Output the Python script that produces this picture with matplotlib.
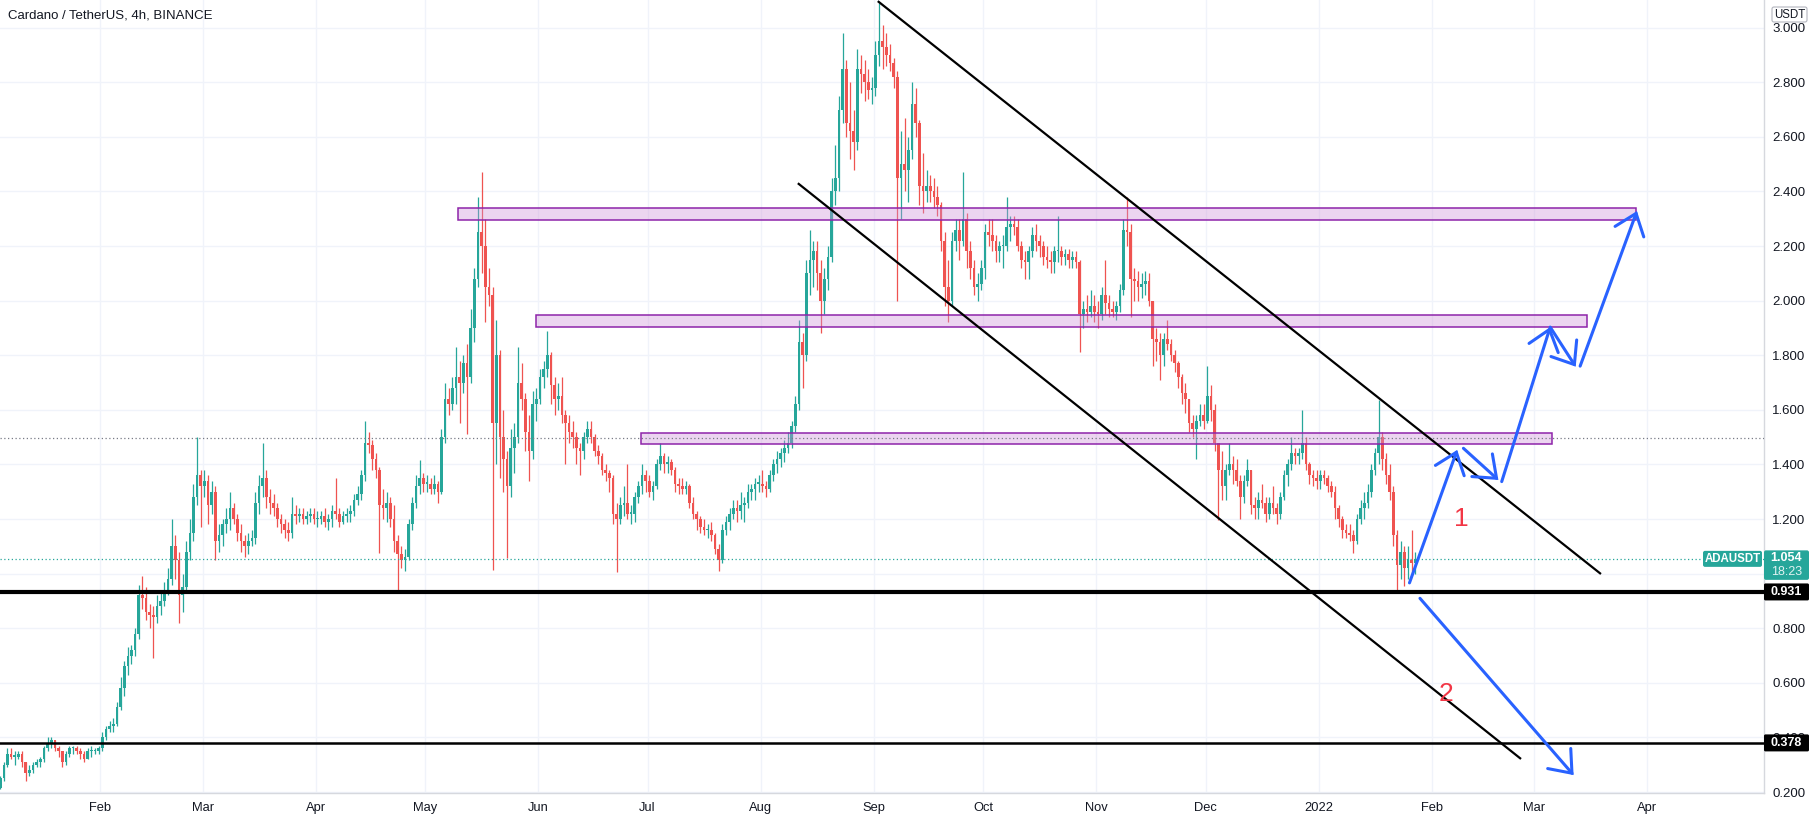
import numpy as np
import pandas as pd
import matplotlib
matplotlib.use("Agg")
import matplotlib.pyplot as plt
import matplotlib.dates as mdates
from matplotlib.patches import Rectangle, FancyBboxPatch

# ---------------- data (daily candles) ----------------
first_open = 0.215
start_date = "2021-01-04"

close_2021_01 = [0.25,0.30,0.34,0.33,0.33,0.34,0.31,0.27,0.28,0.30,0.31,0.32,0.36,0.38,0.39,0.36,0.35,0.31,0.34,0.36,0.36,0.35,0.34,0.32,0.35,0.35,0.35,0.36]
high_2021_01 = [0.26,0.31,0.36,0.36,0.35,0.35,0.35,0.31,0.30,0.31,0.32,0.33,0.37,0.40,0.40,0.39,0.37,0.35,0.35,0.37,0.37,0.37,0.36,0.35,0.36,0.37,0.36,0.37]
low_2021_01 = [0.21,0.24,0.29,0.32,0.30,0.32,0.29,0.24,0.26,0.27,0.29,0.29,0.31,0.35,0.36,0.35,0.33,0.29,0.30,0.33,0.34,0.34,0.32,0.31,0.32,0.33,0.34,0.34]

close_2021_02 = [0.40,0.43,0.44,0.45,0.51,0.58,0.66,0.70,0.72,0.78,0.92,0.91,0.86,0.85,0.84,0.88,0.90,0.94,0.98,1.10,1.05,0.92,0.95,1.08,1.15,1.28,1.36,1.32]
high_2021_02 = [0.42,0.44,0.46,0.47,0.53,0.62,0.68,0.73,0.74,0.80,0.96,0.99,0.95,0.89,0.88,0.92,0.93,0.97,1.02,1.20,1.14,1.08,1.00,1.12,1.20,1.33,1.50,1.38]
low_2021_02 = [0.35,0.39,0.42,0.42,0.44,0.50,0.55,0.63,0.67,0.70,0.76,0.87,0.83,0.80,0.69,0.82,0.85,0.88,0.92,0.96,0.98,0.82,0.86,0.93,1.05,1.12,1.25,1.17]

close_2021_03 = [1.34,1.25,1.30,1.12,1.14,1.18,1.20,1.24,1.20,1.15,1.12,1.10,1.12,1.13,1.26,1.32,1.35,1.28,1.26,1.24,1.20,1.18,1.16,1.15,1.22,1.21,1.22,1.20,1.21,1.22,1.20]
high_2021_03 = [1.38,1.36,1.34,1.32,1.18,1.20,1.24,1.30,1.26,1.22,1.18,1.14,1.15,1.16,1.30,1.36,1.48,1.38,1.31,1.29,1.26,1.22,1.20,1.19,1.28,1.25,1.24,1.24,1.23,1.24,1.24]
low_2021_03 = [1.28,1.18,1.22,1.05,1.08,1.10,1.15,1.16,1.18,1.12,1.08,1.06,1.07,1.10,1.11,1.22,1.28,1.24,1.22,1.21,1.17,1.15,1.13,1.12,1.13,1.18,1.19,1.18,1.18,1.19,1.18]

close_2021_04 = [1.20,1.21,1.19,1.20,1.23,1.22,1.19,1.21,1.22,1.23,1.27,1.29,1.36,1.48,1.47,1.42,1.38,1.25,1.24,1.26,1.20,1.12,1.07,1.05,1.06,1.18,1.26,1.32,1.35,1.33]
high_2021_04 = [1.23,1.23,1.24,1.22,1.25,1.35,1.24,1.23,1.24,1.25,1.29,1.32,1.38,1.56,1.52,1.49,1.44,1.39,1.31,1.30,1.28,1.25,1.14,1.10,1.09,1.20,1.28,1.36,1.415,1.37]
low_2021_04 = [1.17,1.18,1.17,1.16,1.17,1.20,1.17,1.18,1.19,1.19,1.21,1.25,1.27,1.34,1.44,1.38,1.35,1.075,1.20,1.19,1.17,1.08,0.93,1.02,1.01,1.05,1.16,1.24,1.29,1.30]

close_2021_05 = [1.33,1.31,1.33,1.30,1.50,1.64,1.62,1.68,1.72,1.70,1.77,1.72,1.90,2.08,2.25,2.20,2.05,2.02,1.55,1.80,1.50,1.42,1.32,1.46,1.50,1.70,1.64,1.52,1.45,1.62,1.64]
high_2021_05 = [1.36,1.35,1.36,1.34,1.53,1.70,1.68,1.72,1.83,1.78,1.80,1.84,1.97,2.12,2.38,2.47,2.30,2.12,2.05,1.93,1.82,1.60,1.45,1.53,1.55,1.83,1.77,1.66,1.58,1.67,1.68]
low_2021_05 = [1.30,1.29,1.29,1.26,1.29,1.48,1.58,1.60,1.62,1.55,1.66,1.51,1.70,1.85,2.05,2.10,1.92,1.98,1.013,1.40,1.35,1.30,1.057,1.28,1.37,1.48,1.60,1.45,1.34,1.42,1.56]

close_2021_06 = [1.72,1.75,1.80,1.69,1.64,1.65,1.58,1.55,1.52,1.50,1.46,1.45,1.50,1.53,1.50,1.45,1.43,1.38,1.37,1.35,1.22,1.20,1.25,1.26,1.22,1.22,1.28,1.32,1.36,1.34]
high_2021_06 = [1.75,1.78,1.89,1.81,1.72,1.70,1.72,1.60,1.58,1.56,1.52,1.48,1.52,1.56,1.56,1.51,1.47,1.44,1.40,1.38,1.36,1.26,1.28,1.32,1.40,1.25,1.30,1.34,1.40,1.38]
low_2021_06 = [1.62,1.68,1.72,1.62,1.58,1.60,1.55,1.40,1.48,1.46,1.40,1.36,1.42,1.48,1.48,1.43,1.40,1.36,1.34,1.30,1.18,1.007,1.18,1.21,1.20,1.18,1.19,1.26,1.29,1.30]

close_2021_07 = [1.30,1.32,1.40,1.43,1.40,1.41,1.38,1.33,1.32,1.31,1.32,1.26,1.22,1.20,1.17,1.16,1.16,1.14,1.09,1.05,1.16,1.19,1.22,1.24,1.23,1.25,1.26,1.30,1.31,1.33,1.33]
high_2021_07 = [1.36,1.34,1.42,1.48,1.44,1.43,1.42,1.39,1.35,1.35,1.34,1.33,1.28,1.23,1.21,1.20,1.18,1.19,1.15,1.11,1.18,1.21,1.24,1.27,1.27,1.30,1.28,1.33,1.33,1.35,1.36]
low_2021_07 = [1.28,1.27,1.31,1.38,1.37,1.37,1.36,1.30,1.29,1.29,1.29,1.24,1.20,1.16,1.15,1.14,1.13,1.12,1.07,1.01,1.04,1.14,1.16,1.20,1.19,1.20,1.19,1.24,1.27,1.27,1.30]

close_2021_08 = [1.32,1.31,1.36,1.40,1.42,1.44,1.46,1.48,1.54,1.62,1.85,1.80,2.10,2.15,2.18,2.10,2.00,2.08,2.16,2.40,2.45,2.70,2.85,2.65,2.62,2.58,2.85,2.83,2.80,2.77,2.78]
high_2021_08 = [1.38,1.34,1.38,1.42,1.45,1.46,1.49,1.52,1.56,1.65,1.93,1.88,2.15,2.26,2.22,2.22,2.15,2.12,2.20,2.45,2.57,2.75,2.98,2.88,2.80,2.70,2.92,2.90,2.88,2.85,2.82]
low_2021_08 = [1.30,1.28,1.30,1.34,1.37,1.39,1.41,1.44,1.46,1.52,1.60,1.68,1.78,2.02,2.05,2.04,1.88,1.95,2.04,2.14,2.35,2.40,2.65,2.60,2.52,2.48,2.55,2.76,2.73,2.74,2.72]

close_2021_09 = [2.90,2.95,2.93,2.90,2.87,2.82,2.45,2.50,2.48,2.55,2.72,2.65,2.42,2.40,2.42,2.40,2.38,2.35,2.22,2.05,2.00,2.22,2.26,2.22,2.30,2.18,2.12,2.05,2.06,2.12]
high_2021_09 = [2.95,3.09,3.01,2.98,2.94,2.89,2.84,2.62,2.67,2.60,2.80,2.78,2.66,2.54,2.48,2.46,2.45,2.42,2.36,2.25,2.15,2.25,2.30,2.30,2.47,2.32,2.22,2.15,2.10,2.15]
low_2021_09 = [2.75,2.86,2.85,2.86,2.84,2.78,2.00,2.30,2.40,2.36,2.52,2.60,2.35,2.32,2.36,2.36,2.34,2.31,2.18,1.98,1.92,1.98,2.18,2.15,2.20,2.12,2.08,2.02,2.00,2.04]

close_2021_10 = [2.25,2.24,2.22,2.18,2.20,2.20,2.27,2.28,2.27,2.20,2.15,2.14,2.18,2.24,2.22,2.20,2.16,2.15,2.14,2.18,2.18,2.16,2.17,2.15,2.16,2.14,1.95,1.97,1.96,1.98,1.96]
high_2021_10 = [2.28,2.30,2.30,2.24,2.22,2.24,2.38,2.31,2.31,2.30,2.22,2.18,2.20,2.27,2.28,2.24,2.22,2.20,2.18,2.20,2.31,2.20,2.19,2.19,2.18,2.18,2.15,2.00,2.02,2.04,2.02]
low_2021_10 = [2.08,2.20,2.18,2.14,2.14,2.12,2.18,2.22,2.24,2.18,2.12,2.08,2.08,2.16,2.18,2.16,2.13,2.12,2.10,2.10,2.14,2.13,2.13,2.12,2.12,2.12,1.81,1.90,1.92,1.94,1.92]

close_2021_11 = [1.95,2.02,1.99,1.97,1.96,1.98,2.04,2.26,2.25,2.08,2.07,2.05,2.06,2.07,2.00,1.86,1.85,1.80,1.86,1.84,1.80,1.77,1.72,1.66,1.64,1.55,1.53,1.56,1.58,1.56]
high_2021_11 = [2.00,2.05,2.15,2.02,2.00,2.00,2.06,2.30,2.38,2.28,2.12,2.11,2.10,2.11,2.10,2.00,1.90,1.88,1.88,1.93,1.86,1.82,1.78,1.73,1.70,1.64,1.58,1.58,1.62,1.62]
low_2021_11 = [1.90,1.93,1.95,1.94,1.94,1.93,1.96,2.02,2.20,1.94,2.00,2.00,2.01,2.02,1.98,1.76,1.78,1.71,1.76,1.82,1.78,1.74,1.68,1.62,1.59,1.52,1.50,1.42,1.54,1.53]

close_2021_12 = [1.65,1.60,1.48,1.38,1.32,1.38,1.40,1.38,1.34,1.28,1.34,1.38,1.25,1.24,1.27,1.26,1.22,1.26,1.24,1.22,1.28,1.36,1.40,1.44,1.43,1.44,1.48,1.40,1.36,1.35,1.34]
high_2021_12 = [1.76,1.69,1.62,1.48,1.45,1.40,1.48,1.43,1.42,1.36,1.36,1.42,1.38,1.28,1.30,1.33,1.28,1.28,1.32,1.26,1.30,1.38,1.42,1.50,1.46,1.46,1.60,1.50,1.41,1.38,1.38]
low_2021_12 = [1.55,1.56,1.45,1.195,1.27,1.27,1.36,1.33,1.32,1.20,1.26,1.32,1.22,1.20,1.20,1.24,1.19,1.20,1.22,1.18,1.20,1.27,1.32,1.38,1.40,1.40,1.42,1.38,1.33,1.32,1.31]

close_2022_01 = [1.36,1.35,1.32,1.30,1.24,1.20,1.16,1.15,1.14,1.12,1.20,1.24,1.26,1.30,1.38,1.44,1.50,1.42,1.36,1.30,1.14,1.03,1.08,1.02,1.05,1.04,1.054]
high_2022_01 = [1.38,1.38,1.36,1.34,1.32,1.25,1.21,1.18,1.18,1.16,1.22,1.27,1.30,1.33,1.40,1.46,1.636,1.52,1.44,1.40,1.32,1.16,1.12,1.10,1.10,1.16,1.08]
low_2022_01 = [1.31,1.33,1.30,1.28,1.20,1.17,1.13,1.13,1.12,1.075,1.11,1.18,1.20,1.24,1.28,1.36,1.40,1.38,1.33,1.27,1.10,0.928,0.98,0.955,0.98,1.00,1.00]

# ---------------- drawings ----------------
level_lines = [0.931, 0.378]            # horizontal black lines
dotted_level = 1.495                    # gray dotted line
last_price = 1.054
last_time = "18:23"
zones = [  # (start, end, low, high)
    ("2021-05-10 00:00", "2022-03-29 00:00", 2.294, 2.338),
    ("2021-05-31 08:00", "2022-03-15 14:00", 1.904, 1.946),
    ("2021-06-29 03:00", "2022-03-05 22:00", 1.474, 1.514),
]
channel = [  # (start, p0, end, p1)
    ("2021-09-02 03:00", 3.097, "2022-03-19 10:00", 0.9985),
    ("2021-08-11 05:00", 2.430, "2022-02-25 12:00", 0.321),
]
arrows_up = [
    ("2022-01-25 22:00", 0.966, "2022-02-08 00:00", 1.453),
    ("2022-02-09 17:00", 1.459, "2022-02-19 07:00", 1.343),
    ("2022-02-20 05:00", 1.337, "2022-03-05 12:00", 1.903),
    ("2022-03-05 12:00", 1.903, "2022-03-12 12:00", 1.758),
    ("2022-03-13 17:00", 1.760, "2022-03-29 07:00", 2.328),
]
arrow_down = ("2022-01-28 19:00", 0.9095, "2022-03-11 22:00", 0.262)
labels_num = [("1", "2022-02-09 02:00", 1.20), ("2", "2022-02-04 22:00", 0.559)]

month_ticks = ["2021-02-01","2021-03-01","2021-04-01","2021-05-01","2021-06-01","2021-07-01",
               "2021-08-01","2021-09-01","2021-10-01","2021-11-01","2021-12-01","2022-01-01",
               "2022-02-01","2022-03-01","2022-04-01"]
month_labels = ["Feb","Mar","Apr","May","Jun","Jul","Aug","Sep","Oct","Nov","Dec","2022","Feb","Mar","Apr"]
price_ticks = [0.2,0.4,0.6,0.8,1.0,1.2,1.4,1.6,1.8,2.0,2.2,2.4,2.6,2.8,3.0]
hidden_tick_labels = [1.0]   # covered by the price tags in the reference

# ---------------- build ----------------
close = np.array(close_2021_01+close_2021_02+close_2021_03+close_2021_04+close_2021_05+close_2021_06+
                 close_2021_07+close_2021_08+close_2021_09+close_2021_10+close_2021_11+close_2021_12+close_2022_01)
high = np.array(high_2021_01+high_2021_02+high_2021_03+high_2021_04+high_2021_05+high_2021_06+
                high_2021_07+high_2021_08+high_2021_09+high_2021_10+high_2021_11+high_2021_12+high_2022_01)
low = np.array(low_2021_01+low_2021_02+low_2021_03+low_2021_04+low_2021_05+low_2021_06+
               low_2021_07+low_2021_08+low_2021_09+low_2021_10+low_2021_11+low_2021_12+low_2022_01)
opn = np.concatenate([[first_open], close[:-1]])
dates = pd.date_range(start_date, periods=len(close), freq="D") + pd.Timedelta(hours=12)
xd = mdates.date2num(dates.to_pydatetime())

GREEN = "#26A69A"; RED = "#EF5350"; BLUE = "#2962FF"; TXT = "#131722"
W, H = 1814, 821
fig = plt.figure(figsize=(W/100, H/100), dpi=100)
fig.patch.set_facecolor("white")
ax = fig.add_axes([0, 28/H, 1764/W, 793/H])

def dn(s):
    return mdates.date2num(pd.Timestamp(s).to_pydatetime())

ax.set_xlim(dn("2021-01-04 10:40"), dn("2022-05-03 03:00"))
ax.set_ylim(0.19634, 3.1011)

# grid
ax.set_yticks(price_ticks)
ax.set_yticklabels(["" if v in hidden_tick_labels else f"{v:.3f}" for v in price_ticks])
ax.set_xticks([dn(t) for t in month_ticks])
ax.set_xticklabels(month_labels)
ax.grid(True, color="#F0F3FA", lw=1.0, zorder=0)
ax.set_axisbelow(True)
ax.yaxis.tick_right()
ax.tick_params(axis="y", length=0, pad=6, labelsize=9.5, labelcolor=TXT)
ax.tick_params(axis="x", length=0, pad=6.5, labelsize=9.3, labelcolor=TXT)
for lab in ax.get_xticklabels() + ax.get_yticklabels():
    lab.set_fontfamily("Liberation Sans")
for s in ["top", "left"]:
    ax.spines[s].set_visible(False)
for s in ["right", "bottom"]:
    ax.spines[s].set_color("#D6D8DE")
    ax.spines[s].set_linewidth(1.0)

# candles
up = close >= opn
cols = np.where(up, GREEN, RED)
ax.vlines(xd, low, high, colors=cols, lw=0.9, zorder=2)
body_lo = np.minimum(opn, close)
body_h = np.maximum(np.abs(close - opn), 0.004)
ax.bar(xd, body_h, bottom=body_lo, width=0.72, color=cols, linewidth=0, zorder=3)

# zones
for s, e, lo, hi in zones:
    ax.add_patch(Rectangle((dn(s), lo), dn(e) - dn(s), hi - lo, facecolor="#CE93D8", alpha=0.38,
                           edgecolor="none", zorder=4))
    ax.add_patch(Rectangle((dn(s), lo), dn(e) - dn(s), hi - lo, facecolor="none",
                           edgecolor="#8E24AA", lw=1.1, zorder=4.1))

# horizontal lines
ax.axhline(dotted_level, color="#787B86", lw=0.9, ls=(0, (1, 2)), zorder=4)
ax.axhline(last_price, color=GREEN, lw=0.9, ls=(0, (1, 2)), zorder=4)
ax.axhline(level_lines[0], color="black", lw=3.0, zorder=5)
ax.axhline(level_lines[1], color="black", lw=1.8, zorder=5)

# channel
for s, p0, e, p1 in channel:
    ax.plot([dn(s), dn(e)], [p0, p1], color="black", lw=1.6, zorder=5, solid_capstyle="butt")

# arrows
astyle = "->,head_length=0.7,head_width=0.55"
for s, p0, e, p1 in arrows_up + [arrow_down]:
    ax.annotate("", xy=(dn(e), p1), xytext=(dn(s), p0),
                arrowprops=dict(arrowstyle=astyle, color=BLUE, lw=2.2, shrinkA=0, shrinkB=0,
                                mutation_scale=20, joinstyle="miter"), zorder=6)

for t, d, p in labels_num:
    ax.text(dn(d), p, t, color="#F23645", fontsize=19, ha="center", va="center",
            fontfamily="Liberation Sans", zorder=6)

# ---------------- overlay labels (pixel space) ----------------
ov = fig.add_axes([0, 0, 1, 1], zorder=10)
ov.set_xlim(0, W); ov.set_ylim(H, 0); ov.axis("off")
ov.patch.set_alpha(0)

def py(price):
    return H - ax.transData.transform((ax.get_xlim()[0], price))[1]

ylp = py(last_price)
ov.add_patch(FancyBboxPatch((1703, ylp - 8), 59, 16, boxstyle="round,pad=0,rounding_size=2",
                            facecolor=GREEN, edgecolor="none"))
ov.text(1732.5, ylp, "ADAUSDT", color="white", fontsize=8.3, fontweight="bold", ha="center", va="center",
        fontfamily="Liberation Sans")
ov.add_patch(FancyBboxPatch((1764, ylp - 8.5), 45, 29.5, boxstyle="round,pad=0,rounding_size=2",
                            facecolor=GREEN, edgecolor="none"))
ov.text(1786.5, ylp - 0.5, f"{last_price:.3f}", color="white", fontsize=9, fontweight="bold",
        ha="center", va="center", fontfamily="Liberation Sans")
ov.text(1786.5, ylp + 13.5, last_time, color="#E0F2F1", fontsize=9, ha="center", va="center",
        fontfamily="Liberation Sans")

for lv in level_lines:
    yy = py(lv)
    ov.add_patch(FancyBboxPatch((1764, yy - 9), 45, 17, boxstyle="round,pad=0,rounding_size=1.5",
                                facecolor="black", edgecolor="none"))
    ov.text(1786.5, yy - 0.5, f"{lv:.3f}", color="white", fontsize=9, fontweight="bold",
            ha="center", va="center", fontfamily="Liberation Sans")

ov.add_patch(FancyBboxPatch((1772, 7), 35, 15, boxstyle="round,pad=0,rounding_size=2",
                            facecolor="white", edgecolor="#B2B5BE", lw=0.8))
ov.text(1789.5, 14.5, "USDT", color=TXT, fontsize=8.3, ha="center", va="center", fontfamily="Liberation Sans")

ov.text(8, 16, "Cardano / TetherUS, 4h, BINANCE", color=TXT, fontsize=9.5, ha="left", va="center",
        fontfamily="Liberation Sans")

fig.savefig("out.png", dpi=100)
